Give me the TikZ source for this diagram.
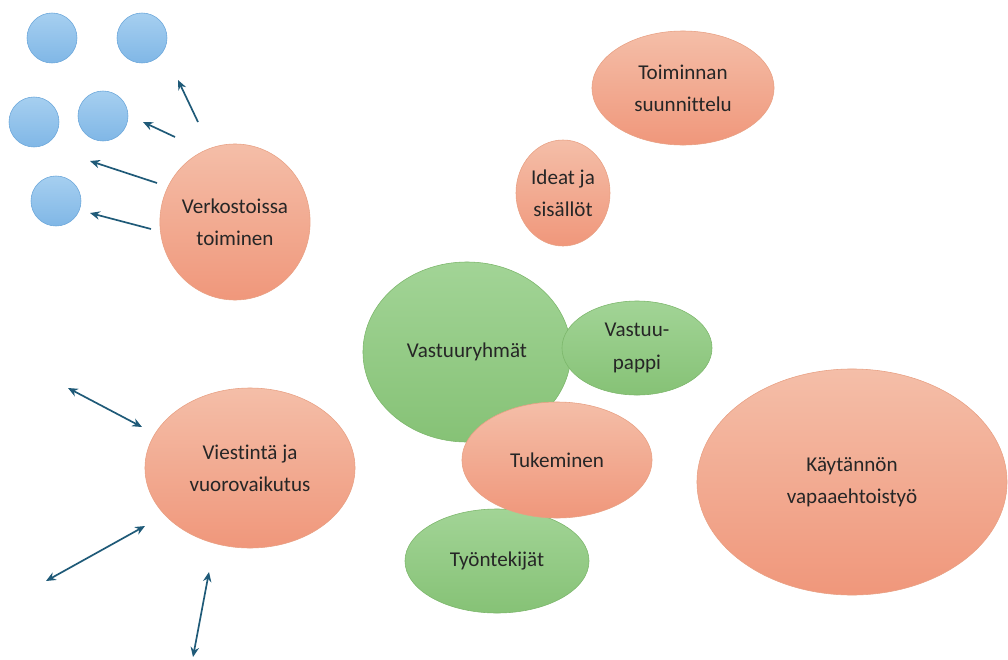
\documentclass[tikz,border=0pt]{standalone}
\usepackage{fontspec}
\setmainfont{Carlito}[Ligatures={NoCommon}]
\usetikzlibrary{shapes.geometric,arrows.meta}
\definecolor{orangetop}{HTML}{F4BEA8}
\definecolor{orangebot}{HTML}{F0977B}
\definecolor{orangeedge}{HTML}{E8A083}
\definecolor{greentop}{HTML}{A2D496}
\definecolor{greenbot}{HTML}{86C276}
\definecolor{greenedge}{HTML}{7BB66A}
\definecolor{bluetop}{HTML}{A6CFF0}
\definecolor{bluebot}{HTML}{80B7E6}
\definecolor{blueedge}{HTML}{6AA6DA}
\definecolor{arrowcol}{HTML}{1F5A78}
\tikzset{
  bubble/.style={ellipse, inner sep=0pt, align=center, text=black!85,
    font=\fontsize{15}{23}\selectfont},
  orangebub/.style={bubble, draw=orangeedge, top color=orangetop, bottom color=orangebot},
  greenbub/.style={bubble, draw=greenedge, top color=greentop, bottom color=greenbot},
  netdot/.style={circle, inner sep=0pt, minimum size=1.25cm, draw=blueedge,
    top color=bluetop, bottom color=bluebot},
  outarrow/.style={draw=arrowcol, line width=1.2pt, -{Stealth[length=7pt,width=6pt]}},
  twoway/.style={draw=arrowcol, line width=1.2pt, {Stealth[length=7pt,width=6pt]}-{Stealth[length=7pt,width=6pt]}}
}
\begin{document}
\begin{tikzpicture}[x=0.025cm,y=-0.025cm]
  \useasboundingbox (0,0) rectangle (1008,659);
  % network dots
  \node[netdot] (d1) at (52,38) {};
  \node[netdot] (d2) at (142,38) {};
  \node[netdot] (d3) at (34,122) {};
  \node[netdot] (d4) at (103,116) {};
  \node[netdot] (d5) at (56,201) {};
  % bubbles
  \node[orangebub, minimum width=3.6cm, minimum height=3.9cm] (verk) at (235,222) {Verkostoissa\\toiminen};
  \node[orangebub, minimum width=4.55cm, minimum height=2.85cm] (toim) at (683,88) {Toiminnan\\suunnittelu};
  \node[orangebub, minimum width=2.35cm, minimum height=2.65cm] (idea) at (563,193) {Ideat ja\\sisällöt};
  \node[greenbub, minimum width=5.2cm, minimum height=4.5cm] (vast) at (467,352) {Vastuuryhmät};
  \node[greenbub, minimum width=3.75cm, minimum height=2.35cm] (papp) at (637,348) {Vastuu-\\pappi};
  \node[greenbub, minimum width=4.6cm, minimum height=2.6cm] (tyon) at (497,561) {Työntekijät};
  \node[orangebub, minimum width=4.75cm, minimum height=2.9cm] (tuke) at (557,460) {Tukeminen};
  \node[orangebub, minimum width=7.75cm, minimum height=5.65cm] (kayt) at (852,482) {Käytännön\\vapaaehtoistyö};
  \node[orangebub, minimum width=5.25cm, minimum height=4cm] (vies) at (250,468) {Viestintä ja\\vuorovaikutus};
  % arrow ends
  \coordinate (a1) at (198,122); \coordinate (b1) at (178,80);
  \coordinate (a2) at (175,137); \coordinate (b2) at (143,122);
  \coordinate (a3) at (157,183); \coordinate (b3) at (90,161);
  \coordinate (a4) at (151,229); \coordinate (b4) at (90,213);
  \coordinate (c1) at (142,427); \coordinate (e1) at (68,388);
  \coordinate (c2) at (145,526); \coordinate (e2) at (46,581);
  \coordinate (c3) at (209,572); \coordinate (e3) at (193,657);
  \foreach \i in {1,...,4}
    \draw[outarrow] (a\i) -- (b\i);
  \foreach \i in {1,2,3}
    \draw[twoway] (e\i) -- (c\i);
\end{tikzpicture}
\end{document}
